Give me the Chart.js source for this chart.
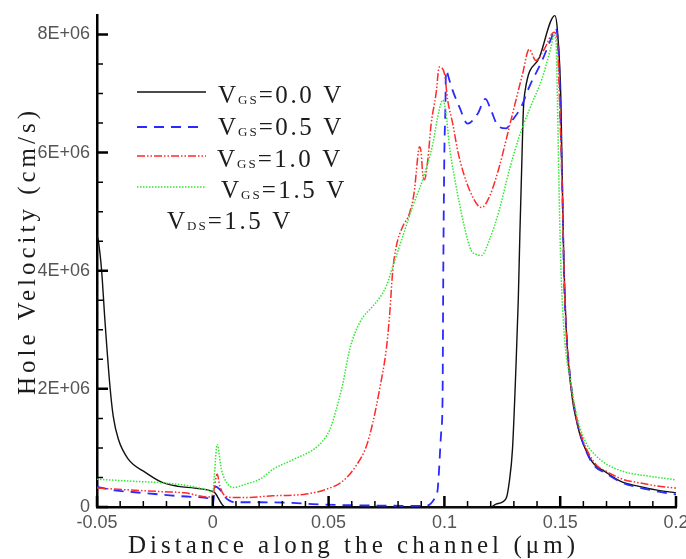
<!DOCTYPE html>
<html>
<head>
<meta charset="utf-8">
<title>Hole velocity along the channel</title>
<script src="https://cdn.jsdelivr.net/npm/chart.js@4.4.1/dist/chart.umd.min.js"></script>
<style>
  html, body { margin: 0; padding: 0; background: #fff; }
  #wrap { width: 686px; height: 559px; }
</style>
</head>
<body>
<div id="wrap"><canvas id="velocityChart" width="686" height="559"></canvas></div>
<script>
/* Hole velocity along the channel, four gate biases (V_DS = 1.5 V).
   Velocities in units of 1E+06 cm/s. */

const vgs00X = [-0.05, -0.0494, -0.048, -0.0466, -0.0444, -0.043, -0.0408, -0.0365, -0.0293, -0.0221, -0.015, -0.0078, -0.0006, 0.0009, 0.0043, 0.0056, 0.12, 0.1223, 0.1266, 0.128, 0.1294, 0.1309, 0.1319, 0.1326, 0.1333, 0.1341, 0.1349, 0.141, 0.1477, 0.1488, 0.1503, 0.1513, 0.1527, 0.1553, 0.1568, 0.1582, 0.1596, 0.1639, 0.1697, 0.1769, 0.184, 0.1913, 0.2];
const vgs00V = [4.6, 4.5, 4.0, 3.17, 2.04, 1.54, 1.15, 0.81, 0.59, 0.42, 0.35, 0.32, 0.27, 0.24, 0.03, 0, 0, 0.05, 0.14, 0.42, 0.98, 2.38, 3.51, 4.64, 5.64, 6.72, 7.06, 7.61, 8.32, 8.07, 6.89, 4.64, 2.95, 1.82, 1.5, 1.27, 1.1, 0.76, 0.59, 0.42, 0.35, 0.29, 0.24];

const vgs05X = [-0.05, -0.0422, -0.0336, -0.025, -0.0164, -0.0078, -0.0013, 0.0001, 0.0009, 0.003, 0.0052, 0.0095, 0.0203, 0.0345, 0.0431, 0.06, 0.0921, 0.0957, 0.0971, 0.0986, 0.0992, 0.0995, 0.0997, 0.1, 0.1004, 0.1007, 0.1022, 0.1036, 0.1065, 0.11, 0.1144, 0.1177, 0.1201, 0.123, 0.1266, 0.1294, 0.1331, 0.1366, 0.1422, 0.1474, 0.1481, 0.1496, 0.1503, 0.151, 0.1517, 0.1527, 0.1546, 0.1568, 0.1596, 0.1639, 0.1697, 0.1769, 0.184, 0.1913, 0.2];
const vgs05V = [0.34, 0.28, 0.25, 0.22, 0.19, 0.17, 0.14, 0.05, 0.35, 0.3, 0.17, 0.08, 0.08, 0.07, 0.05, 0.03, 0.02, 0.14, 0.3, 1.26, 1.82, 3.85, 4.92, 6.04, 6.72, 7.39, 7.22, 7.05, 6.77, 6.49, 6.66, 6.91, 6.72, 6.46, 6.41, 6.55, 6.77, 7.11, 7.56, 8.05, 8.1, 7.45, 6.33, 5.2, 3.8, 2.95, 2.1, 1.54, 1.12, 0.74, 0.57, 0.41, 0.33, 0.27, 0.21];

const vgs10X = [-0.05, -0.0365, -0.0221, -0.0121, -0.002, 0.0001, 0.0019, 0.003, 0.0052, 0.0088, 0.0145, 0.0259, 0.0346, 0.0404, 0.049, 0.0562, 0.0619, 0.0663, 0.0691, 0.072, 0.0749, 0.0763, 0.0777, 0.0792, 0.082, 0.0849, 0.0871, 0.0878, 0.0885, 0.0892, 0.09, 0.0906, 0.0914, 0.0928, 0.0943, 0.0964, 0.0978, 0.1, 0.1014, 0.1036, 0.1057, 0.1079, 0.1108, 0.1144, 0.116, 0.1194, 0.1237, 0.1273, 0.1309, 0.1338, 0.1366, 0.1395, 0.1431, 0.1474, 0.1487, 0.15, 0.151, 0.1517, 0.1527, 0.1546, 0.1568, 0.1596, 0.1654, 0.1697, 0.1769, 0.184, 0.1913, 0.2];
const vgs10V = [0.32, 0.29, 0.26, 0.24, 0.17, 0.22, 0.56, 0.36, 0.19, 0.16, 0.16, 0.19, 0.2, 0.22, 0.3, 0.44, 0.7, 1.03, 1.43, 1.99, 2.67, 3.23, 4.0, 4.41, 4.75, 4.97, 5.37, 5.65, 5.93, 6.1, 5.99, 5.65, 5.54, 5.87, 6.49, 7.0, 7.45, 7.34, 6.89, 6.49, 6.04, 5.7, 5.37, 5.11, 5.07, 5.25, 5.76, 6.32, 6.89, 7.34, 7.75, 7.56, 7.75, 8.04, 7.9, 6.5, 5.2, 3.9, 2.95, 2.1, 1.55, 1.15, 0.72, 0.61, 0.47, 0.41, 0.36, 0.32];

const vgs15X = [-0.05, -0.0365, -0.0221, -0.0106, -0.002, 0.0001, 0.0006, 0.0019, 0.0037, 0.0059, 0.0088, 0.0145, 0.0203, 0.026, 0.0346, 0.0461, 0.0504, 0.0533, 0.0562, 0.0591, 0.0634, 0.0691, 0.072, 0.0749, 0.0777, 0.082, 0.0863, 0.0906, 0.095, 0.0971, 0.0993, 0.1007, 0.1022, 0.1043, 0.1065, 0.1086, 0.1115, 0.1144, 0.116, 0.1194, 0.1237, 0.128, 0.1323, 0.1366, 0.1424, 0.1461, 0.1474, 0.1483, 0.1488, 0.1496, 0.1503, 0.1517, 0.1546, 0.1575, 0.1611, 0.1654, 0.1711, 0.1783, 0.1869, 0.2];
const vgs15V = [0.47, 0.44, 0.41, 0.36, 0.28, 0.25, 0.5, 1.06, 0.64, 0.42, 0.33, 0.39, 0.47, 0.64, 0.8, 1.06, 1.3, 1.65, 2.1, 2.67, 3.12, 3.4, 3.54, 3.74, 4.07, 4.58, 5.09, 5.54, 6.15, 6.6, 6.89, 6.66, 6.1, 5.59, 5.14, 4.75, 4.35, 4.27, 4.26, 4.52, 5.03, 5.7, 6.27, 6.72, 7.28, 7.8, 8.0, 7.8, 6.89, 5.2, 4.07, 2.95, 2.1, 1.49, 1.09, 0.87, 0.7, 0.59, 0.53, 0.46];

const vgsLabels = ['0.0', '0.5', '1.0', '1.5'];
const vdsLabel = '1.5';

const xTicks = [-0.05, 0, 0.05, 0.1, 0.15, 0.2];
const xTickLabels = ['-0.05', '0', '0.05', '0.1', '0.15', '0.2'];
const yTicks = [0, 2, 4, 6, 8];
const yTickLabels = ['0', '2E+06', '4E+06', '6E+06', '8E+06'];

const TICK_FONT = { family: "'Liberation Sans Narrow', 'Liberation Sans', Arial, sans-serif", size: 18 };
const SERIF = "'Liberation Serif', 'DejaVu Serif', serif";
const INK = '#1c1c1c';

function points(xs, vs) {
  return xs.map((x, i) => ({ x: x, y: vs[i] }));
}

/** Major ticks from the label list, minor ticks every `step` in between. */
function buildTicks(scale, majors, step) {
  const list = [];
  const n = Math.round((scale.max - scale.min) / step);
  for (let i = 0; i <= n; i++) {
    const v = Math.round((scale.min + i * step) * 1e6) / 1e6;
    if (v > majors[majors.length - 1] + 1e-9) break;
    list.push({ value: v, major: majors.some((m) => Math.abs(m - v) < 1e-9) });
  }
  scale.ticks = list;
}

function labelFor(value, majors, labels) {
  const i = majors.findIndex((m) => Math.abs(m - value) < 1e-9);
  return i < 0 ? '' : labels[i];
}

/* inward tick marks, long for labelled ticks */
const tickMarks = {
  id: 'tickMarks',
  afterDatasetsDraw(chart) {
    const { ctx, chartArea: a, scales: { x, y } } = chart;
    ctx.save();
    ctx.strokeStyle = '#000';
    [false, true].forEach((major) => {
      ctx.lineWidth = major ? 2.5 : 1.5;
      ctx.beginPath();
      x.ticks.filter((t) => t.major === major).forEach((t) => {
        const px = x.getPixelForValue(t.value);
        ctx.moveTo(px, a.bottom);
        ctx.lineTo(px, a.bottom - (major ? 11 : 6));
      });
      y.ticks.filter((t) => t.major === major).forEach((t) => {
        const py = y.getPixelForValue(t.value);
        ctx.moveTo(a.left, py);
        ctx.lineTo(a.left + (major ? 11 : 6), py);
      });
      ctx.stroke();
    });
    ctx.restore();
  },
};

/* letter-spaced text stretched to a given width */
function spacedText(ctx, text, x, y, width) {
  ctx.letterSpacing = '0px';
  const w = ctx.measureText(text).width;
  ctx.letterSpacing = ((width - w) / (text.length - 1)) + 'px';
  ctx.fillText(text, x, y);
  ctx.letterSpacing = '0px';
}

/* V + subscript + rest, serif, on one baseline */
function subText(ctx, x, base, main, sub, rest) {
  ctx.letterSpacing = '2px';
  ctx.font = '25px ' + SERIF;
  ctx.fillText(main, x, base);
  x += ctx.measureText(main).width;
  ctx.font = '13px ' + SERIF;
  ctx.fillText(sub, x, base + 1);
  x += ctx.measureText(sub).width;
  ctx.font = '25px ' + SERIF;
  ctx.letterSpacing = '2.6px';
  ctx.fillText(rest, x, base);
  ctx.letterSpacing = '0px';
}

const annotations = {
  id: 'annotations',
  afterDraw(chart) {
    const ctx = chart.ctx;
    ctx.save();
    ctx.fillStyle = INK;
    ctx.textAlign = 'left';
    ctx.textBaseline = 'alphabetic';

    // axis titles
    ctx.font = '25px ' + SERIF;
    spacedText(ctx, 'Distance along the channel (\u03bcm)', 128, 553, 447);
    ctx.save();
    ctx.translate(35, 395);
    ctx.rotate(-Math.PI / 2);
    spacedText(ctx, 'Hole Velocity (cm/s)', 0, 0, 284);
    ctx.restore();

    // legend
    const rows = [
      { lineY: 92, lineEnd: 206, textX: 218, base: 103 },
      { lineY: 127, lineEnd: 202, textX: 218, base: 135 },
      { lineY: 156, lineEnd: 206, textX: 217, base: 167 },
      { lineY: 187, lineEnd: 206, textX: 221, base: 198 },
    ];
    rows.forEach((r, i) => {
      const ds = chart.data.datasets[i];
      ctx.save();
      ctx.strokeStyle = ds.borderColor;
      ctx.lineWidth = ds.borderWidth;
      ctx.setLineDash(ds.borderDash || []);
      ctx.beginPath();
      ctx.moveTo(137, r.lineY);
      ctx.lineTo(r.lineEnd, r.lineY);
      ctx.stroke();
      ctx.restore();
      subText(ctx, r.textX, r.base, 'V', 'GS', '=' + vgsLabels[i] + ' V');
    });
    subText(ctx, 167, 229, 'V', 'DS', '=' + vdsLabel + ' V');
    ctx.restore();
  },
};

const line = (label, xs, vs, color, width, dash, order) => ({
  label: label,
  data: points(xs, vs),
  borderColor: color,
  borderWidth: width,
  borderDash: dash,
  pointRadius: 0,
  fill: false,
  cubicInterpolationMode: 'monotone',
  clip: false,
  order: order,
});

new Chart(document.getElementById('velocityChart'), {
  type: 'line',
  data: {
    datasets: [
      line('VGS=0.0 V', vgs00X, vgs00V, '#111111', 1.4, [], 4),
      line('VGS=0.5 V', vgs05X, vgs05V, '#2a2aff', 1.8, [10, 7], 3),
      line('VGS=1.0 V', vgs10X, vgs10V, '#ff2a2a', 1.5, [8, 2, 1.5, 2, 1.5, 2], 2),
      line('VGS=1.5 V', vgs15X, vgs15V, '#2ee82e', 1.5, [1.5, 1.5], 1),
    ],
  },
  options: {
    responsive: false,
    animation: false,
    devicePixelRatio: 1,
    layout: { padding: { top: 15, right: 10, left: 0, bottom: 0 } },
    plugins: { legend: { display: false }, tooltip: { enabled: false } },
    scales: {
      x: {
        type: 'linear',
        min: -0.05,
        max: 0.2,
        afterBuildTicks: (s) => buildTicks(s, xTicks, 0.01),
        afterFit: (s) => { s.height = 52; s.paddingLeft = 0; s.paddingRight = 10; },
        grid: { display: false, drawTicks: false },
        border: { display: true, color: '#000', width: 2.5 },
        ticks: {
          autoSkip: false,
          maxRotation: 0,
          padding: 5,
          color: '#555555',
          font: TICK_FONT,
          callback: (v) => labelFor(v, xTicks, xTickLabels),
        },
      },
      y: {
        type: 'linear',
        min: 0,
        max: 8.33,
        afterBuildTicks: (s) => buildTicks(s, yTicks, 0.5),
        afterFit: (s) => { s.width = 97; s.paddingTop = 15; s.paddingBottom = 0; },
        grid: { display: false, drawTicks: false },
        border: { display: true, color: '#000', width: 2.5 },
        ticks: {
          autoSkip: false,
          padding: 7,
          color: '#555555',
          font: TICK_FONT,
          callback: (v) => labelFor(v, yTicks, yTickLabels),
        },
      },
    },
  },
  plugins: [tickMarks, annotations],
});
</script>
</body>
</html>
